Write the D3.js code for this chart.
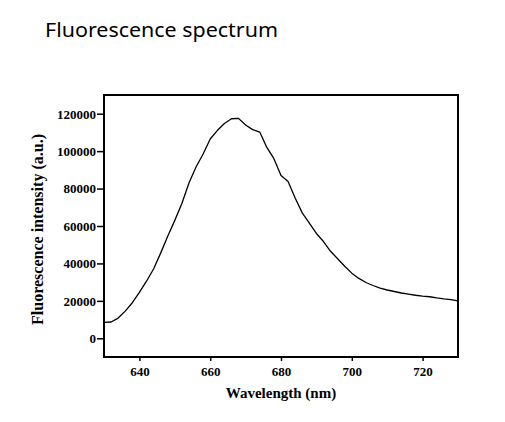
<!DOCTYPE html>
<html>
<head>
<meta charset="utf-8">
<script src="https://cdn.jsdelivr.net/npm/d3@7/dist/d3.min.js"></script>
<style>
  html, body { margin: 0; padding: 0; background: #fff; }
  svg { display: block; }
</style>
</head>
<body>
<div id="chart"></div>
<script>
const wavelength = [630, 632, 634, 636, 638, 640, 642, 644, 646, 648, 650, 652, 654, 656, 658, 660, 662, 664, 666, 668, 670, 672, 674, 676, 678, 680, 682, 684, 686, 688, 690, 692, 694, 696, 698, 700, 702, 704, 706, 708, 710, 712, 714, 716, 718, 720, 722, 724, 726, 728, 730];
const intensity = [8500, 8700, 10800, 14500, 19000, 24500, 30500, 37000, 45500, 54500, 63000, 72000, 83000, 91500, 98500, 106500, 111000, 114800, 117300, 117500, 114000, 111500, 110200, 102000, 96000, 87000, 83800, 75000, 67000, 61500, 56000, 51700, 46500, 42500, 38500, 34800, 32000, 29800, 28200, 26800, 25800, 25000, 24200, 23600, 23000, 22500, 22200, 21600, 21100, 20700, 20000];
const xTicks = [640, 660, 680, 700, 720];
const yTicks = [0, 20000, 40000, 60000, 80000, 100000, 120000];
const titleText = "Fluorescence spectrum";
const xLabel = "Wavelength (nm)";
const yLabel = "Fluorescence intensity (a.u.)";

(function () {
const W = 505, H = 422;
const mL = 104, mR = 458, mT = 95, mB = 357;

const svg = d3.select("#chart").append("svg").attr("width", W).attr("height", H);

const x = d3.scaleLinear().domain([630, 730]).range([mL, mR]);
const y = d3.scaleLinear().domain([-10000, 130000]).range([mB, mT]);

svg.append("text")
  .attr("x", 45).attr("y", 37)
  .attr("font-family", "'Noto Sans', 'Open Sans', sans-serif")
  .attr("font-size", 20.5)
  .attr("textLength", 233)
  .attr("lengthAdjust", "spacingAndGlyphs")
  .attr("fill", "#000")
  .text(titleText);

const serif = "'Liberation Serif', 'DejaVu Serif', serif";

const xAxis = svg.append("g")
  .attr("transform", `translate(0,${mB})`)
  .call(d3.axisBottom(x).tickValues(xTicks).tickFormat(d3.format("d")).tickSize(4).tickSizeOuter(0));
xAxis.select(".domain").remove();
xAxis.selectAll("line").attr("stroke", "#000").attr("stroke-width", 1.5);
xAxis.selectAll("text")
  .attr("font-family", serif).attr("font-weight", "bold").attr("font-size", 13)
  .attr("fill", "#000").attr("dy", "0").attr("y", 19);

const yAxis = svg.append("g")
  .attr("transform", `translate(${mL},0)`)
  .call(d3.axisLeft(y).tickValues(yTicks).tickFormat(d3.format("d")).tickSize(7).tickSizeOuter(0));
yAxis.select(".domain").remove();
yAxis.selectAll("line").attr("stroke", "#000").attr("stroke-width", 1.5);
yAxis.selectAll("text")
  .attr("font-family", serif).attr("font-weight", "bold").attr("font-size", 13)
  .attr("fill", "#000").attr("x", -8).attr("dy", "0.34em");

svg.append("rect")
  .attr("x", mL).attr("y", mT)
  .attr("width", mR - mL).attr("height", mB - mT)
  .attr("fill", "none").attr("stroke", "#000").attr("stroke-width", 2);

const data = wavelength.map((w, i) => ({ w, v: intensity[i] }));
svg.append("path")
  .datum(data)
  .attr("fill", "none")
  .attr("stroke", "#000")
  .attr("stroke-width", 1.3)
  .attr("stroke-linejoin", "round")
  .attr("d", d3.line().x(d => x(d.w)).y(d => y(d.v)));

svg.append("text")
  .attr("x", (mL + mR) / 2).attr("y", 398)
  .attr("text-anchor", "middle")
  .attr("font-family", serif).attr("font-weight", "bold").attr("font-size", 15)
  .attr("fill", "#000")
  .text(xLabel);

svg.append("text")
  .attr("transform", `translate(43,${(134 + 325) / 2}) rotate(-90)`)
  .attr("text-anchor", "middle")
  .attr("font-family", serif).attr("font-weight", "bold").attr("font-size", 16)
  .attr("textLength", 191)
  .attr("lengthAdjust", "spacingAndGlyphs")
  .attr("fill", "#000")
  .text(yLabel);
})();
</script>
</body>
</html>
